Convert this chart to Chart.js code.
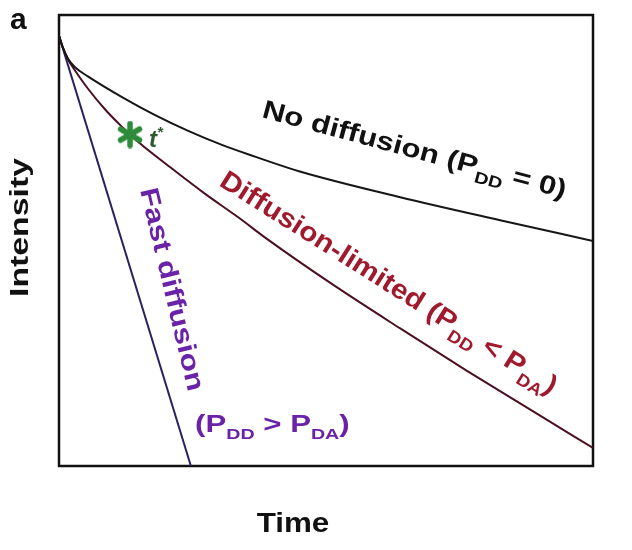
<!DOCTYPE html>
<html lang="en">
<head>
    <meta charset="UTF-8">
    <title>Intensity vs Time</title>
    <script src="https://cdn.jsdelivr.net/npm/chart.js@4"></script>
    <style>
        html, body { margin: 0; padding: 0; background: #fff; }
    </style>
</head>
<body>
    <canvas id="chart" width="632" height="550"></canvas>

    <script>
        // values (time 0..100, intensity 0..100)
        const noDiffTime   = [0, 0.75, 1.7, 3.0, 5.4, 11.8, 18.0, 24.2, 30.5, 36.7, 45.1, 63.9, 82.6, 100];
        const noDiffInt    = [95.4, 92.7, 90.3, 88.4, 86.4, 81.8, 77.8, 74.3, 71.2, 68.6, 65.3, 59.6, 54.5, 49.9];
        const limitedTime  = [0, 0.75, 1.7, 3.0, 5.4, 8.6, 11.8, 14.8, 21.2, 27.3, 33.5, 39.0, 51.3, 63.9, 76.4, 88.8, 100];
        const limitedInt   = [95.4, 92.7, 90.1, 87.7, 83.7, 79.1, 75.2, 71.9, 65.9, 60.4, 55.2, 50.3, 40.2, 30.5, 21.1, 12.1, 4.0];
        const fastTime     = [0, 24.7];
        const fastInt      = [95.4, 0];
        const tStarTime    = [13.3];
        const tStarInt     = [73.5];

        const pts = (xs, ys) => xs.map((x, i) => ({ x: x, y: ys[i] }));

        // green asterisk marker
        function asterisk() {
            const c = document.createElement('canvas');
            c.width = 28; c.height = 28;
            const g = c.getContext('2d');
            g.strokeStyle = '#2e8b3a';
            g.lineWidth = 5.5;
            g.lineCap = 'round';
            for (let k = 0; k < 3; k++) {
                const a = Math.PI / 2 + k * Math.PI / 3;
                g.beginPath();
                g.moveTo(14 + Math.cos(a) * 11, 14 + Math.sin(a) * 11);
                g.lineTo(14 - Math.cos(a) * 11, 14 - Math.sin(a) * 11);
                g.stroke();
            }
            return c;
        }

        // text with sub/superscripts, optionally rotated and stretched along the baseline
        function drawRich(ctx, o) {
            ctx.save();
            ctx.translate(o.x, o.y);
            ctx.rotate(o.angle * Math.PI / 180);
            ctx.scale(o.sx || 1, 1);
            ctx.fillStyle = o.color;
            ctx.textBaseline = 'alphabetic';
            let cx = 0;
            if (o.align === 'center') {
                let w = 0;
                o.parts.forEach(p => {
                    const s = p[1] === 'n' ? o.size : o.size * 0.63;
                    ctx.font = (o.style || 'bold') + ' ' + s + 'px "Liberation Sans", Arial, sans-serif';
                    w += ctx.measureText(p[0]).width;
                });
                cx = -w / 2;
            }
            o.parts.forEach(p => {
                const sub = p[1] === 'sub', sup = p[1] === 'sup';
                const s = (sub || sup) ? o.size * 0.63 : o.size;
                ctx.font = (o.style || 'bold') + ' ' + s + 'px "Liberation Sans", Arial, sans-serif';
                const dy = sub ? o.size * 0.3 : sup ? -o.size * 0.4 : 0;
                ctx.fillText(p[0], cx, dy);
                cx += ctx.measureText(p[0]).width;
            });
            ctx.restore();
        }

        const annotations = {
            id: 'annotations',
            beforeDatasetsDraw(chart) {
                const { ctx, chartArea: a } = chart;
                ctx.save();
                ctx.strokeStyle = '#111';
                ctx.lineWidth = 2.5;
                ctx.strokeRect(a.left, a.top, a.right - a.left, a.bottom - a.top);
                ctx.restore();
            },
            afterDraw(chart) {
                const ctx = chart.ctx;
                drawRich(ctx, { x: 10, y: 29, angle: 0, size: 30, color: '#111', parts: [['a', 'n']] });
                drawRich(ctx, { x: 28, y: 297, angle: -90, size: 26, sx: 1.3, color: '#111', parts: [['Intensity', 'n']] });
                drawRich(ctx, { x: 293, y: 532, angle: 0, size: 28, sx: 1.12, align: 'center', color: '#111', parts: [['Time', 'n']] });

                drawRich(ctx, { x: 261, y: 117, angle: 15, size: 26, sx: 1.2, color: '#111',
                    parts: [['No diffusion (P', 'n'], ['DD', 'sub'], [' = 0)', 'n']] });
                drawRich(ctx, { x: 218, y: 185, angle: 32.3, size: 27, sx: 1.11, color: '#a0192c',
                    parts: [['Diffusion-limited (P', 'n'], ['DD', 'sub'], [' < P', 'n'], ['DA', 'sub'], [')', 'n']] });
                drawRich(ctx, { x: 140, y: 190, angle: 76.6, size: 26, sx: 1.22, color: '#6a22a6',
                    parts: [['Fast diffusion', 'n']] });
                drawRich(ctx, { x: 195, y: 432, angle: 0, size: 24, sx: 1.3, color: '#6a22a6',
                    parts: [['(P', 'n'], ['DD', 'sub'], [' > P', 'n'], ['DA', 'sub'], [')', 'n']] });
                drawRich(ctx, { x: 149, y: 147, angle: 0, size: 24, style: 'italic bold', color: '#2f5a2f',
                    parts: [['t', 'n'], ['*', 'sup']] });
            }
        };

        new Chart(document.getElementById('chart'), {
            type: 'line',
            data: {
                datasets: [
                    { label: 't*', data: pts(tStarTime, tStarInt), showLine: false,
                      pointStyle: asterisk(), pointRadius: 14, borderColor: '#2e8b3a', backgroundColor: '#2e8b3a' },
                    { label: 'No diffusion', data: pts(noDiffTime, noDiffInt),
                      borderColor: '#161616', borderWidth: 2, pointRadius: 0, cubicInterpolationMode: 'monotone' },
                    { label: 'Diffusion-limited', data: pts(limitedTime, limitedInt),
                      borderColor: '#4a1020', borderWidth: 2, pointRadius: 0, cubicInterpolationMode: 'monotone' },
                    { label: 'Fast diffusion', data: pts(fastTime, fastInt),
                      borderColor: '#2e2060', borderWidth: 2, pointRadius: 0 }
                ]
            },
            options: {
                responsive: false,
                animation: false,
                layout: { padding: { left: 59, top: 11, right: 39, bottom: 84 } },
                plugins: { legend: { display: false }, tooltip: { enabled: false } },
                scales: {
                    x: { type: 'linear', min: 0, max: 100, display: false },
                    y: { type: 'linear', min: 0, max: 100, display: false }
                }
            },
            plugins: [annotations]
        });
    </script>
</body>
</html>
